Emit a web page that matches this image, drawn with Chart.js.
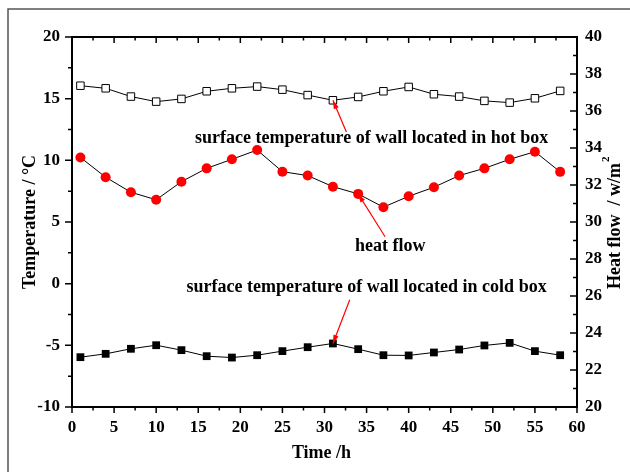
<!DOCTYPE html>
<html>
<head>
<meta charset="utf-8">
<script src="https://cdn.jsdelivr.net/npm/chart.js@4.4.1/dist/chart.umd.min.js"></script>
<style>
  body { margin: 0; background: #fff; }
  #wrap { width: 630px; height: 472px; position: relative; }
</style>
</head>
<body>
<div id="wrap"><canvas id="chart"></canvas></div>
<script>
// данные
const hours = [1, 4, 7, 10, 13, 16, 19, 22, 25, 28, 31, 34, 37, 40, 43, 46, 49, 52, 55, 58];
const hotWall = [16.05, 15.84, 15.17, 14.76, 14.98, 15.6, 15.84, 15.98, 15.73, 15.29,
                 14.87, 15.14, 15.6, 15.95, 15.36, 15.17, 14.82, 14.68, 15.03, 15.63];
const heatFlow = [33.49, 32.42, 31.61, 31.2, 32.18, 32.9, 33.39, 33.89, 32.72, 32.51,
                  31.91, 31.52, 30.8, 31.39, 31.88, 32.51, 32.9, 33.39, 33.8, 32.71];
const coldWall = [-5.96, -5.69, -5.28, -4.99, -5.39, -5.88, -5.99, -5.8, -5.47, -5.15,
                  -4.85, -5.31, -5.8, -5.82, -5.58, -5.34, -5.01, -4.8, -5.47, -5.8];

const xTicks = [0, 5, 10, 15, 20, 25, 30, 35, 40, 45, 50, 55, 60];
const leftTicks = [-10, -5, 0, 5, 10, 15, 20];
const rightTicks = [20, 22, 24, 26, 28, 30, 32, 34, 36, 38, 40];

const FONT = 'Liberation Serif';

// подписи со стрелками: текст, позиция текста, хвост и острие стрелки (в единицах данных)
const notes = [
    { text: 'surface temperature of wall located in hot box', x: 35.6, y: 11.8, axis: 'y',
      tail: [32.6, 12.3], tip: [31, hotWall[10]], tipAxis: 'y' },
    { text: 'heat flow', x: 37.8, y: 3.0, axis: 'y',
      tail: [37.2, 3.8], tip: [34, heatFlow[11]], tipAxis: 'y1' },
    { text: 'surface temperature of wall located in cold box', x: 35.0, y: -0.3, axis: 'y',
      tail: [33.0, -1.3], tip: [31, coldWall[10]], tipAxis: 'y' }
];

function toPoints(values) {
    return hours.map((h, i) => ({ x: h, y: values[i] }));
}

// рамка, засечки, подписи осей и стрелки
const decorPlugin = {
    id: 'decor',
    afterDraw(chart) {
        const ctx = chart.ctx;
        const a = chart.chartArea;
        const sx = chart.scales.x, sy = chart.scales.y, sy1 = chart.scales.y1;
        ctx.save();

        // внешняя рамка
        ctx.strokeStyle = '#555';
        ctx.lineWidth = 1.5;
        ctx.beginPath();
        ctx.moveTo(8, 480);
        ctx.lineTo(8, 9);
        ctx.lineTo(640, 9);
        ctx.stroke();

        // рамка графика
        ctx.strokeStyle = '#000';
        ctx.lineWidth = 2;
        ctx.strokeRect(a.left, a.top, a.right - a.left, a.bottom - a.top);

        ctx.lineWidth = 1.5;
        ctx.beginPath();
        // ось X: снизу наружу, сверху внутрь
        for (let v = 0; v <= 60; v += 2.5) {
            const px = sx.getPixelForValue(v);
            const len = v % 5 === 0 ? 6 : 3.5;
            ctx.moveTo(px, a.bottom);
            ctx.lineTo(px, a.bottom + len);
            ctx.moveTo(px, a.top);
            ctx.lineTo(px, a.top + len);
        }
        // левая ось наружу
        for (let v = -10; v <= 20; v += 2.5) {
            const py = sy.getPixelForValue(v);
            const len = v % 5 === 0 ? 7 : 4;
            ctx.moveTo(a.left, py);
            ctx.lineTo(a.left - len, py);
        }
        // правая ось внутрь
        for (let v = 20; v <= 40; v += 1) {
            const py = sy1.getPixelForValue(v);
            const len = v % 2 === 0 ? 7 : 4;
            ctx.moveTo(a.right, py);
            ctx.lineTo(a.right - len, py);
        }
        ctx.stroke();

        // заголовки осей
        ctx.fillStyle = '#000';
        ctx.font = `bold 18px "${FONT}"`;
        ctx.textAlign = 'center';
        ctx.textBaseline = 'middle';
        ctx.fillText('Time /h', (a.left + a.right) / 2 - 3, 453);

        const midY = (a.top + a.bottom) / 2;
        ctx.save();
        ctx.translate(30, midY);
        ctx.rotate(-Math.PI / 2);
        ctx.fillText('Temperature / °C', 0, 0);
        ctx.restore();

        ctx.save();
        ctx.translate(615, midY);
        ctx.rotate(-Math.PI / 2);
        const main = 'Heat flow  / w/m';
        const w = ctx.measureText(main).width;
        ctx.textAlign = 'left';
        ctx.fillText(main, -w / 2 - 4, 0);
        ctx.font = `bold 11px "${FONT}"`;
        ctx.fillText('2', w / 2 - 3, -9);
        ctx.restore();

        // подписи и стрелки
        ctx.font = `bold 18px "${FONT}"`;
        ctx.textAlign = 'center';
        notes.forEach(n => {
            ctx.fillStyle = '#000';
            ctx.fillText(n.text, sx.getPixelForValue(n.x), chart.scales[n.axis].getPixelForValue(n.y));

            const x0 = sx.getPixelForValue(n.tail[0]);
            const y0 = sy.getPixelForValue(n.tail[1]);
            const x1 = sx.getPixelForValue(n.tip[0]);
            const y1 = chart.scales[n.tipAxis].getPixelForValue(n.tip[1]);
            const ang = Math.atan2(y1 - y0, x1 - x0);
            ctx.strokeStyle = '#ff0000';
            ctx.fillStyle = '#ff0000';
            ctx.lineWidth = 1.2;
            ctx.beginPath();
            ctx.moveTo(x0, y0);
            ctx.lineTo(x1, y1);
            ctx.stroke();
            ctx.beginPath();
            ctx.moveTo(x1, y1);
            ctx.lineTo(x1 - 9 * Math.cos(ang - 0.3), y1 - 9 * Math.sin(ang - 0.3));
            ctx.lineTo(x1 - 9 * Math.cos(ang + 0.3), y1 - 9 * Math.sin(ang + 0.3));
            ctx.closePath();
            ctx.fill();
        });

        ctx.restore();
    }
};

function tickFont() {
    return { family: FONT, size: 17, weight: 'bold' };
}

const ctx = document.getElementById('chart').getContext('2d');
const chart = new Chart(ctx, {
    type: 'line',
    data: {
        datasets: [{
            label: 'hot box',
            data: toPoints(hotWall),
            yAxisID: 'y',
            borderColor: '#000',
            borderWidth: 1,
            pointStyle: 'rect',
            pointRadius: 5.3,
            pointBackgroundColor: '#fff',
            pointBorderColor: '#000',
            pointBorderWidth: 1
        }, {
            label: 'heat flow',
            data: toPoints(heatFlow),
            yAxisID: 'y1',
            borderColor: '#000',
            borderWidth: 1,
            pointStyle: 'circle',
            pointRadius: 5,
            pointBackgroundColor: '#ff0000',
            pointBorderColor: '#ff0000',
            pointBorderWidth: 0
        }, {
            label: 'cold box',
            data: toPoints(coldWall),
            yAxisID: 'y',
            borderColor: '#000',
            borderWidth: 1,
            pointStyle: 'rect',
            pointRadius: 5.5,
            pointBackgroundColor: '#000',
            pointBorderColor: '#000',
            pointBorderWidth: 0
        }]
    },
    options: {
        responsive: true,
        maintainAspectRatio: false,
        animation: false,
        layout: { padding: { top: 37, left: 0, right: 0, bottom: 0 } },
        plugins: {
            legend: { display: false },
            tooltip: { enabled: false }
        },
        scales: {
            x: {
                type: 'linear',
                min: 0,
                max: 60,
                afterBuildTicks: s => { s.ticks = xTicks.map(v => ({ value: v })); },
                afterFit: s => { s.height = 65; },
                grid: { display: false, drawTicks: false },
                border: { display: false },
                ticks: { font: tickFont(), color: '#000', padding: 10, autoSkip: false, maxRotation: 0 }
            },
            y: {
                position: 'left',
                min: -10,
                max: 20,
                afterBuildTicks: s => { s.ticks = leftTicks.map(v => ({ value: v })); },
                afterFit: s => { s.width = 72; },
                grid: { display: false, drawTicks: false },
                border: { display: false },
                ticks: { font: tickFont(), color: '#000', padding: 12 }
            },
            y1: {
                position: 'right',
                min: 20,
                max: 40,
                afterBuildTicks: s => { s.ticks = rightTicks.map(v => ({ value: v })); },
                afterFit: s => { s.width = 53; },
                grid: { display: false, drawTicks: false },
                border: { display: false },
                ticks: { font: tickFont(), color: '#000', padding: 8 }
            }
        }
    },
    plugins: [decorPlugin]
});
</script>
</body>
</html>
